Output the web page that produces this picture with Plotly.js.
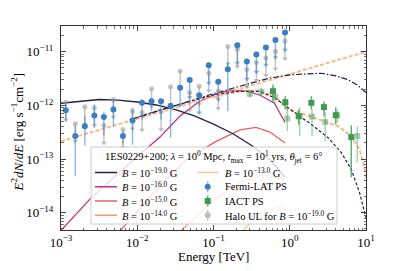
<!DOCTYPE html>
<html><head><meta charset="utf-8">
<script src="https://cdn.plot.ly/plotly-3.0.1.min.js"></script>
<style>html,body{margin:0;padding:0;background:#fff}#plot{width:407px;height:271px}</style>
</head><body><div id="plot"></div>
<script>
// ---------------- data ----------------
// Cascade (solid) curves, E in TeV, E^2 dN/dE in erg s^-1 cm^-2
const b19E = [0.001, 0.00178, 0.00316, 0.00562, 0.01, 0.0178, 0.0316, 0.0562, 0.1, 0.178, 0.316, 0.562, 0.867];
const b19F = [1.10e-12, 1.20e-12, 1.29e-12, 1.26e-12, 1.16e-12, 1.02e-12, 8.4e-13, 6.4e-13, 4.5e-13, 3.0e-13, 1.8e-13, 9.5e-14, 4.6e-14];
const b16E = [0.001, 0.0024, 0.0056, 0.01, 0.02, 0.036, 0.066, 0.12, 0.175, 0.27, 0.41, 0.63, 0.81, 0.867];
const b16F = [4.7e-15, 1.8e-14, 5.4e-14, 1.1e-13, 2.6e-13, 6.3e-13, 1.2e-12, 1.74e-12, 1.9e-12, 1.86e-12, 1.55e-12, 1.1e-12, 5.5e-13, 4.8e-13];
const b15E = [0.005, 0.00625, 0.02, 0.0446, 0.105, 0.223, 0.36, 0.55, 0.867];
const b15F = [3.5e-15, 5.0e-15, 3.2e-14, 9.9e-14, 2.1e-13, 3.5e-13, 3.9e-13, 3.2e-13, 2.0e-13];
const b14E = [0.0316, 0.0383, 0.105, 0.223, 0.43, 0.867];
const b14F = [3.5e-15, 4.8e-15, 1.8e-14, 3.7e-14, 5.2e-14, 4.2e-14];
const b13E = [0.2, 0.3, 0.5, 0.867];
const b13F = [3.5e-15, 6.3e-15, 1.1e-14, 1.4e-14];
// Intrinsic (dash-dot) and absorbed (dashed) spectra for B = 1e-19 G
const b19IntE = [0.008, 0.01, 0.02, 0.1, 0.316, 0.55, 1.0, 1.92, 2.57, 4.0, 5.8, 7.9, 10];
const b19IntF = [5.4e-13, 5.96e-13, 8.3e-13, 1.66e-12, 2.63e-12, 3.24e-12, 3.72e-12, 3.98e-12, 3.98e-12, 3.55e-12, 3.02e-12, 2.34e-12, 1.74e-12];
const b19AbsE = [0.008, 0.01, 0.02, 0.1, 0.158, 0.21, 0.4, 0.635, 0.95, 1.92, 3.18, 4.74, 6.41, 8.26, 10.1];
const b19AbsF = [5.4e-13, 5.96e-13, 8.3e-13, 1.58e-12, 1.74e-12, 1.84e-12, 1.82e-12, 1.39e-12, 9.06e-13, 4.43e-13, 2.51e-13, 1.32e-13, 6.46e-14, 2.34e-14, 7.6e-15];
// Intrinsic and absorbed spectra for B = 1e-13 G
const b13IntE = [0.001, 0.01, 0.1, 1, 10];
const b13IntF = [2.16e-13, 5.62e-13, 1.46e-12, 3.85e-12, 1.0e-11];
const b13AbsE = [0.1, 0.158, 0.25, 0.4, 0.635, 0.95, 1.57, 2.88, 4.3, 6.41, 8.26, 9.6, 10.1];
const b13AbsF = [1.41e-12, 1.66e-12, 1.86e-12, 1.91e-12, 1.48e-12, 8.4e-13, 6.8e-13, 5.1e-13, 4.1e-13, 2.7e-13, 1.5e-13, 6.5e-14, 4.2e-14];

// Fermi-LAT point source
const fermiE = [1.155e-3, 1.54e-3, 2.054e-3, 2.738e-3, 3.652e-3, 4.87e-3, 6.494e-3, 8.66e-3, 0.01155, 0.0154, 0.02054, 0.02738,
                0.03652, 0.0487, 0.06494, 0.0866, 0.1155, 0.154, 0.2054, 0.2738, 0.3652, 0.487, 0.6494, 0.866];
const fermiF = [8.17e-13, 2.7e-13, 4.1e-13, 6.5e-13, 6.1e-13, 8.4e-13, 2.7e-13, 5.25e-13, 1.12e-12, 1.2e-12, 1.2e-12, 9.8e-13,
                2.14e-12, 2.99e-12, 1.55e-12, 5.6e-12, 2.75e-12, 4.7e-12, 1.32e-11, 6.6e-12, 8.9e-12, 1.2e-11, 1.66e-11, 2.29e-11];
const fermiHi = [1.05e-12, 4.1e-13, 6.3e-13, 1.05e-12, 7.6e-13, 1.29e-12, 3.3e-13, 9.1e-13, 1.29e-12, 1.41e-12, 1.29e-12, 1.12e-12,
                 null, null, null, null, null, 6.6e-12, null, null, null, null, null, null];
const fermiLo = [5.1e-13, 4.8e-14, 1.8e-13, 3.85e-13, 2.75e-13, 4.1e-13, 1.86e-13, 1.86e-13, 5.5e-13, 7.8e-13, 5.5e-13, 2.5e-13,
                 null, null, null, null, null, 7.8e-13, null, null, null, null, null, null];
const fermiUL = [0,0,0,0,0,0,0,0,0,0,0,0, 1,1,1,1,1,0,1,1,1,1,1,1];
// Halo upper limits for B = 1e-19 G (same energy bins)
const haloF = [1.15e-12, 4.57e-13, 9.5e-13, 9.1e-13, 4.27e-13, 1.29e-12, 3.55e-13, 7.8e-13, 7.4e-13, 2.04e-12, 7.6e-13, 2.24e-12,
               4.37e-12, 1.74e-12, 2.29e-12, 3.98e-12, 1.86e-12, 1.26e-11, 1.12e-11, 4.68e-12, 6.3e-12, 7.76e-12, 1.02e-11, 1.58e-11];
// IACT point source (two data sets)
const iactAE = [0.603, 0.875, 1.31, 1.92, 2.81, 4.01, 6.41];
const iactAF = [1.845e-12, 1.15e-12, 6.3e-13, 1.12e-12, 9.3e-13, 6.6e-13, 2.57e-13];
const iactAHi = [2.46e-12, 1.49e-12, 8.4e-13, 1.49e-12, 1.2e-12, 9.2e-13, 4.25e-13];
const iactALo = [1.12e-12, 8.4e-13, 4.4e-13, 8.4e-13, 6.3e-13, 4.4e-13, 4.6e-14];
const iactBE = [0.299, 0.424, 0.646, 0.929, 1.35, 1.96, 2.92, 4.21, 7.69];
const iactBF = [1.65e-12, 1.8e-12, 1.45e-12, 5.7e-13, 6.3e-13, 6.2e-13, 4.9e-13, 6.5e-13, 2.7e-13];
const iactBHi = [1.99e-12, 2.14e-12, 1.82e-12, 1.12e-12, 9.2e-13, 8.4e-13, 7.4e-13, 8.4e-13, 4.1e-13];
const iactBLo = [1.39e-12, 1.49e-12, 1.14e-12, 3.3e-13, 2.7e-13, 2.7e-13, 2.16e-13, 4.8e-13, 8.7e-14];

const xTickVals = [1e-3, 1e-2, 1e-1, 1, 10];
const xTickText = ['10<sup>−3</sup>', '10<sup>−2</sup>', '10<sup>−1</sup>', '10<sup>0</sup>', '10<sup>1</sup>'];
const yTickVals = [1e-14, 1e-13, 1e-12, 1e-11];
const yTickText = ['10<sup>−14</sup>', '10<sup>−13</sup>', '10<sup>−12</sup>', '10<sup>−11</sup>'];
const xTitle = 'Energy [TeV]';
const yTitle = '<i>E</i><sup>2</sup><i>dN</i>/<i>dE</i> [erg s<sup>−1</sup>cm<sup>−2</sup>]';

const legendTitle = '1ES0229+200; <i>λ</i> = 10<sup>0</sup> Mpc, <i>t</i><sub>max</sub> = 10<sup>1</sup> yrs, <i>θ</i><sub>jet</sub> = 6°';
const legendLabels = ['<i>B</i> = 10<sup>−19.0</sup> G', '<i>B</i> = 10<sup>−16.0</sup> G', '<i>B</i> = 10<sup>−15.0</sup> G',
                      '<i>B</i> = 10<sup>−14.0</sup> G', '<i>B</i> = 10<sup>−13.0</sup> G', 'Fermi-LAT PS', 'IACT PS',
                      'Halo UL for <i>B</i> = 10<sup>−19.0</sup> G'];

// ---------------- styles ----------------
const FONT = '"Liberation Serif", "DejaVu Serif", "Times New Roman", serif';
const C19 = '#221e52', C16 = '#c5307b', C15 = '#ee5b65', C14 = '#f7966d', C13 = '#fdc58a';
const CORANGE = 'rgba(249,172,112,0.85)';
const CBLUE = '#3b7fc0', CBLUEBAR = 'rgba(59,127,192,0.55)';
const CGREEN = '#3f9a50', CGREENBAR = 'rgba(63,154,80,0.8)';
const CGREENL = 'rgba(63,154,80,0.45)';
const CGRAY = 'rgba(150,150,150,0.55)';
const ARROW = 0.47;  // length of upper-limit arrows (factor)

function line(x, y, color, width, dash) {
  return {x: x, y: y, type: 'scatter', mode: 'lines', showlegend: false, hoverinfo: 'skip',
          line: {color: color, width: width, dash: dash || 'solid'}};
}
function points(E, F, Hi, Lo, color, barColor, symbol, size) {
  const plus = F.map((v, i) => Hi[i] - v);
  const minus = F.map((v, i) => v - Lo[i]);
  return {x: E, y: F, type: 'scatter', mode: 'markers', showlegend: false, hoverinfo: 'skip',
          marker: {color: color, size: size, symbol: symbol},
          error_y: {type: 'data', symmetric: false, array: plus, arrayminus: minus, color: barColor, thickness: 1.5, width: 0}};
}
function upperLimits(E, F, color, barColor, size) {
  const ends = F.map(v => v * ARROW);
  return [
    {x: E, y: F, type: 'scatter', mode: 'markers', showlegend: false, hoverinfo: 'skip',
     marker: {color: color, size: size},
     error_y: {type: 'data', symmetric: false, array: F.map(() => 0), arrayminus: F.map((v, i) => v - ends[i]),
               color: barColor, thickness: 1.5, width: 0}},
    {x: E, y: ends, type: 'scatter', mode: 'markers', showlegend: false, hoverinfo: 'skip',
     marker: {color: barColor, size: 5, symbol: 'triangle-down'}}
  ];
}
function pick(arr, mask, want) { return arr.filter((v, i) => !!mask[i] === want); }

const traces = [
  line(b13E, b13F, C13, 1.3),
  line(b14E, b14F, C14, 1.3),
  line(b15E, b15F, C15, 1.3),
  line(b16E, b16F, C16, 1.3),
  line(b19E, b19F, C19, 1.3),
  line(b13IntE, b13IntF, CORANGE, 2, '4px,2px'),
  line(b13AbsE, b13AbsF, CORANGE, 2, '4px,2px'),
  line(b19IntE, b19IntF, C19, 1.2, '6px,2px,1.5px,2px'),
  line(b19AbsE, b19AbsF, C19, 1.2, '3px,2px'),
];
// halo ULs (gray)
traces.push(...upperLimits(fermiE, haloF, CGRAY, CGRAY, 5));
// Fermi detections and ULs
traces.push(points(pick(fermiE, fermiUL, false), pick(fermiF, fermiUL, false), pick(fermiHi, fermiUL, false),
                   pick(fermiLo, fermiUL, false), CBLUE, CBLUEBAR, 'circle', 6));
traces.push(...upperLimits(pick(fermiE, fermiUL, true), pick(fermiF, fermiUL, true), CBLUE, CBLUEBAR, 6));
// IACT
traces.push(points(iactBE, iactBF, iactBHi, iactBLo, CGREENL, CGREENL, 'square', 6));
traces.push(points(iactAE, iactAF, iactAHi, iactALo, CGREEN, CGREENBAR, 'square', 6));

// ---------------- manual legend ----------------
const L = 61, T = 26, W = 305, H = 204;
const px = p => (p - L) / W;
const py = p => (T + H - p) / H;
const rows = [172.5, 186.8, 201, 215.3];
const shapes = [
  {type: 'rect', xref: 'paper', yref: 'paper', x0: px(91), x1: px(337), y0: py(224), y1: py(147),
   fillcolor: 'rgba(255,255,255,0.8)', line: {color: '#cccccc', width: 1}, layer: 'above'}
];
const lineCols = [C19, C16, C15, C14];
lineCols.forEach((c, i) => shapes.push({type: 'line', xref: 'paper', yref: 'paper', x0: px(95), x1: px(117),
  y0: py(rows[i]), y1: py(rows[i]), line: {color: c, width: 1.5}}));
shapes.push({type: 'line', xref: 'paper', yref: 'paper', x0: px(198), x1: px(218), y0: py(rows[0]), y1: py(rows[0]),
             line: {color: C13, width: 1.5}});
function glyph(row, color, bar, kind) {
  const cx = px(207.7), cy = py(rows[row]);
  shapes.push({type: 'line', xref: 'paper', yref: 'paper', xsizemode: 'pixel', ysizemode: 'pixel',
               xanchor: cx, yanchor: cy, x0: 0, x1: 0, y0: -5.5, y1: 5.5, line: {color: bar, width: 1.5}});
  shapes.push({type: kind, xref: 'paper', yref: 'paper', xsizemode: 'pixel', ysizemode: 'pixel',
               xanchor: cx, yanchor: cy, x0: -3, x1: 3, y0: -3, y1: 3, fillcolor: color, line: {width: 0}});
}
glyph(1, CBLUE, CBLUEBAR, 'circle');
glyph(2, CGREEN, CGREENBAR, 'rect');
glyph(3, 'rgb(190,190,190)', 'rgb(200,200,200)', 'circle');

const annFont = {family: FONT, size: 10.5, color: '#000'};
const titleFont = {family: FONT, size: 13, color: '#000'};
const annotations = [
  {xref: 'paper', yref: 'paper', x: px(214), y: py(156.5), xanchor: 'center', yanchor: 'middle', showarrow: false,
   text: legendTitle, font: annFont},
  // axis titles
  {xref: 'paper', yref: 'paper', x: px(213.5), y: py(256), xanchor: 'center', yanchor: 'middle', showarrow: false,
   text: xTitle, font: titleFont},
  {xref: 'paper', yref: 'paper', x: px(17.5), y: py(132), xanchor: 'center', yanchor: 'middle', showarrow: false,
   text: yTitle, font: titleFont, textangle: -90}
];
for (let i = 0; i < 4; i++) {
  annotations.push({xref: 'paper', yref: 'paper', x: px(120), y: py(rows[i]), xanchor: 'left', yanchor: 'middle',
                    showarrow: false, text: legendLabels[i], font: annFont});
  annotations.push({xref: 'paper', yref: 'paper', x: px(222.5), y: py(rows[i]), xanchor: 'left', yanchor: 'middle',
                    showarrow: false, text: legendLabels[4 + i], font: annFont});
}

// minor ticks
const xMinor = [], yMinor = [];
for (let d = -3; d <= 0; d++) for (let m = 2; m <= 9; m++) xMinor.push(m * Math.pow(10, d));
for (let d = -15; d <= -11; d++) for (let m = 2; m <= 9; m++) yMinor.push(m * Math.pow(10, d));

const axisCommon = {
  type: 'log', showgrid: false, zeroline: false, showline: true, linecolor: '#333', linewidth: 1,
  mirror: 'allticks', ticks: 'inside', ticklen: 5, tickwidth: 0.9, tickcolor: '#333',
  tickfont: {family: FONT, size: 13, color: '#000'}, tickmode: 'array',
};
const layout = {
  width: 407, height: 271,
  margin: {l: L, r: 407 - L - W, t: T, b: 271 - T - H, pad: 0},
  paper_bgcolor: '#fff', plot_bgcolor: '#fff',
  font: {family: FONT, color: '#000'},
  showlegend: false,
  xaxis: Object.assign({}, axisCommon, {
    range: [-3, 1], tickvals: xTickVals, ticktext: xTickText, ticklabelstandoff: 0,
    minor: {tickmode: 'array', tickvals: xMinor, ticks: 'inside', ticklen: 2.5, tickwidth: 0.7, tickcolor: '#333', showgrid: false}
  }),
  yaxis: Object.assign({}, axisCommon, {
    range: [-14.32, -10.52], tickvals: yTickVals, ticktext: yTickText, ticklabelstandoff: 4,
    minor: {tickmode: 'array', tickvals: yMinor, ticks: 'inside', ticklen: 2.5, tickwidth: 0.7, tickcolor: '#333', showgrid: false}
  }),
  shapes: shapes,
  annotations: annotations
};
Plotly.newPlot('plot', traces, layout, {staticPlot: true, displayModeBar: false});
</script></body></html>
